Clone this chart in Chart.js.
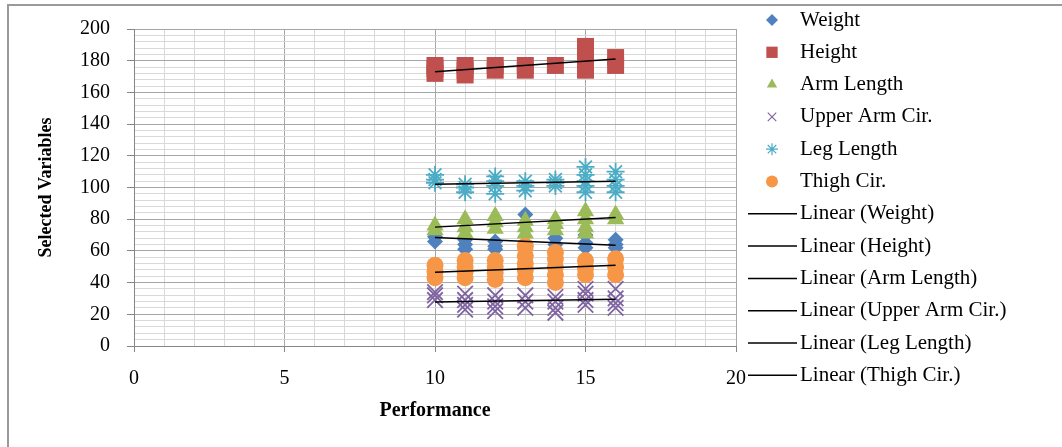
<!DOCTYPE html>
<html>
<head>
<meta charset="utf-8">
<script src="https://cdn.jsdelivr.net/npm/chart.js@4/dist/chart.umd.min.js"></script>
<style>
  body { margin: 0; background: #fff; }
</style>
</head>
<body>
<canvas id="scatterChart" width="1062" height="447"></canvas>
<script>
// Performance levels on the x axis
const perfLevels = [10, 11, 12, 13, 14, 15, 16];

// Values, one list per performance level
const weight = [[66, 69], [61, 64, 67], [61, 63, 66], [61, 65, 83], [64, 68], [62, 65, 70], [62, 64, 67]];
const height = [[172, 175, 177], [171, 174, 177], [174, 177], [174, 177], [177], [174, 180, 189], [177, 182]];
const armLength = [[73, 76], [71, 75, 80], [74, 78, 82], [71, 75, 79], [73, 77, 80], [71, 75, 80, 85], [80, 83]];
const upperArmCir = [[29, 32, 34], [23, 26, 29, 33], [22, 25, 28, 32], [24, 28, 32], [21, 24, 28, 31], [26, 29, 33, 36], [24, 27, 30, 36]];
const legLength = [[103, 105, 108], [97, 100, 102], [96, 101, 104, 107], [98, 101, 104], [101, 103, 105], [97, 101, 104, 108, 113], [97, 101, 105, 110]];
const thighCir = [[43, 47, 51], [43, 47, 50, 54], [42, 46, 50, 54], [43, 48, 52, 57, 63], [40, 45, 50, 55, 59], [45, 49, 54], [45, 50, 55]];

// Trendline ends (Excel linear trendlines)
const trendX = [10, 16];
const weightTrend = [68.5, 63.5];
const heightTrend = [173, 181];
const armLengthTrend = [75, 81];
const upperArmTrend = [27.8, 29.5];
const legLengthTrend = [102, 104];
const thighTrend = [46.5, 51];

const serif = 'Liberation Serif';

// turn the per-level lists into {x, y} points
function toPoints(groups) {
    const pts = [];
    groups.forEach(function (vals, i) {
        vals.forEach(function (v) {
            pts.push({ x: perfLevels[i], y: v });
        });
    });
    return pts;
}

function trendPoints(ys) {
    return trendX.map(function (x, i) { return { x: x, y: ys[i] }; });
}

function series(label, groups, color, style, radius, order, filled) {
    return {
        label: label,
        data: toPoints(groups),
        pointStyle: style,
        pointRadius: radius,
        pointHoverRadius: radius,
        backgroundColor: filled ? color : 'transparent',
        borderColor: color,
        borderWidth: filled ? 0 : 1.8,
        order: order
    };
}

function trend(label, ys) {
    return {
        label: label,
        data: trendPoints(ys),
        showLine: true,
        pointRadius: 0,
        borderColor: '#000',
        borderWidth: 1.5,
        order: 0
    };
}

// border round the whole chart
const frame = {
    id: 'frame',
    beforeDraw: function (chart) {
        const c = chart.ctx;
        c.save();
        c.fillStyle = '#fff';
        c.fillRect(0, 0, chart.width, chart.height);
        c.strokeStyle = '#9a9a9a';
        c.lineWidth = 2;
        c.strokeRect(8, 5, 1100, 500);
        c.restore();
    }
};

// Excel-like legend on the right
const sideLegend = {
    id: 'sideLegend',
    afterDraw: function (chart) {
        const c = chart.ctx;
        c.save();
        c.font = '21px "' + serif + '"';
        c.textBaseline = 'middle';
        c.fillStyle = '#000';
        chart.data.datasets.forEach(function (ds, i) {
            const y = 20 + i * 32.3;
            if (ds.showLine) {
                c.strokeStyle = '#000';
                c.lineWidth = 1.5;
                c.beginPath();
                c.moveTo(748, y);
                c.lineTo(797, y);
                c.stroke();
                c.fillText(ds.label, 800, y);
            } else {
                c.fillStyle = ds.backgroundColor === 'transparent' ? ds.borderColor : ds.backgroundColor;
                c.strokeStyle = ds.borderColor;
                c.lineWidth = 1.2;
                const r = ds.pointStyle === 'rect' ? 8 : 6;
                Chart.helpers.drawPoint(c, { pointStyle: ds.pointStyle, radius: r, rotation: 0, borderWidth: ds.borderWidth ? 1.2 : 0 }, 772, y);
                c.fillStyle = '#000';
                c.fillText(ds.label, 800, y);
            }
        });
        c.restore();
    }
};

const ctx = document.getElementById('scatterChart').getContext('2d');
const scatterChart = new Chart(ctx, {
    type: 'scatter',
    data: {
        datasets: [
            series('Weight', weight, '#4f81bd', 'rectRot', 8, 6, true),
            series('Height', height, '#c0504d', 'rect', 12, 5, true),
            series('Arm Length', armLength, '#9bbb59', 'triangle', 10, 4, true),
            series('Upper Arm Cir.', upperArmCir, '#8064a2', 'crossRot', 11, 3, false),
            series('Leg Length', legLength, '#4bacc6', 'star', 9, 2, false),
            series('Thigh Cir.', thighCir, '#f79646', 'circle', 8.5, 1, true),
            trend('Linear (Weight)', weightTrend),
            trend('Linear (Height)', heightTrend),
            trend('Linear (Arm Length)', armLengthTrend),
            trend('Linear (Upper Arm Cir.)', upperArmTrend),
            trend('Linear (Leg Length)', legLengthTrend),
            trend('Linear (Thigh Cir.)', thighTrend)
        ]
    },
    options: {
        responsive: false,
        animation: false,
        layout: {
            padding: { left: 0, right: 326, top: 27, bottom: 0 }
        },
        plugins: {
            legend: { display: false },
            tooltip: { enabled: false }
        },
        scales: {
            x: {
                type: 'linear',
                min: 0,
                max: 20,
                afterFit: function (scale) { scale.height = 101; },
                ticks: {
                    stepSize: 1,
                    autoSkip: false,
                    maxRotation: 0,
                    padding: 15,
                    color: '#000',
                    font: { family: serif, size: 20 },
                    callback: function (v) { return v % 5 === 0 ? v : ''; }
                },
                grid: {
                    tickLength: 6,
                    color: function (c) { return c.tick && c.tick.value % 5 === 0 ? '#a6a6a6' : '#d9d9d9'; },
                    tickColor: function (c) { return c.tick && c.tick.value % 5 === 0 ? '#868686' : 'transparent'; }
                },
                border: { color: '#868686' },
                title: {
                    display: true,
                    text: 'Performance',
                    color: '#000',
                    padding: { top: 0, bottom: 24 },
                    font: { family: serif, size: 20, weight: 'bold' }
                }
            },
            y: {
                min: 0,
                max: 200,
                afterFit: function (scale) { scale.width = 134; },
                ticks: {
                    stepSize: 4,
                    autoSkip: false,
                    padding: 17,
                    color: '#000',
                    font: { family: serif, size: 20 },
                    callback: function (v) { return v % 20 === 0 ? v : ''; }
                },
                grid: {
                    tickLength: 7,
                    color: function (c) { return c.tick && c.tick.value % 20 === 0 ? '#a6a6a6' : '#d9d9d9'; },
                    tickColor: function (c) { return c.tick && c.tick.value % 20 === 0 ? '#868686' : 'transparent'; }
                },
                border: { color: '#868686' },
                title: {
                    display: true,
                    text: 'Selected Variables',
                    color: '#000',
                    padding: { top: 36, bottom: 0 },
                    font: { family: serif, size: 18, weight: 'bold' }
                }
            }
        }
    },
    plugins: [frame, sideLegend]
});
</script>
</body>
</html>
